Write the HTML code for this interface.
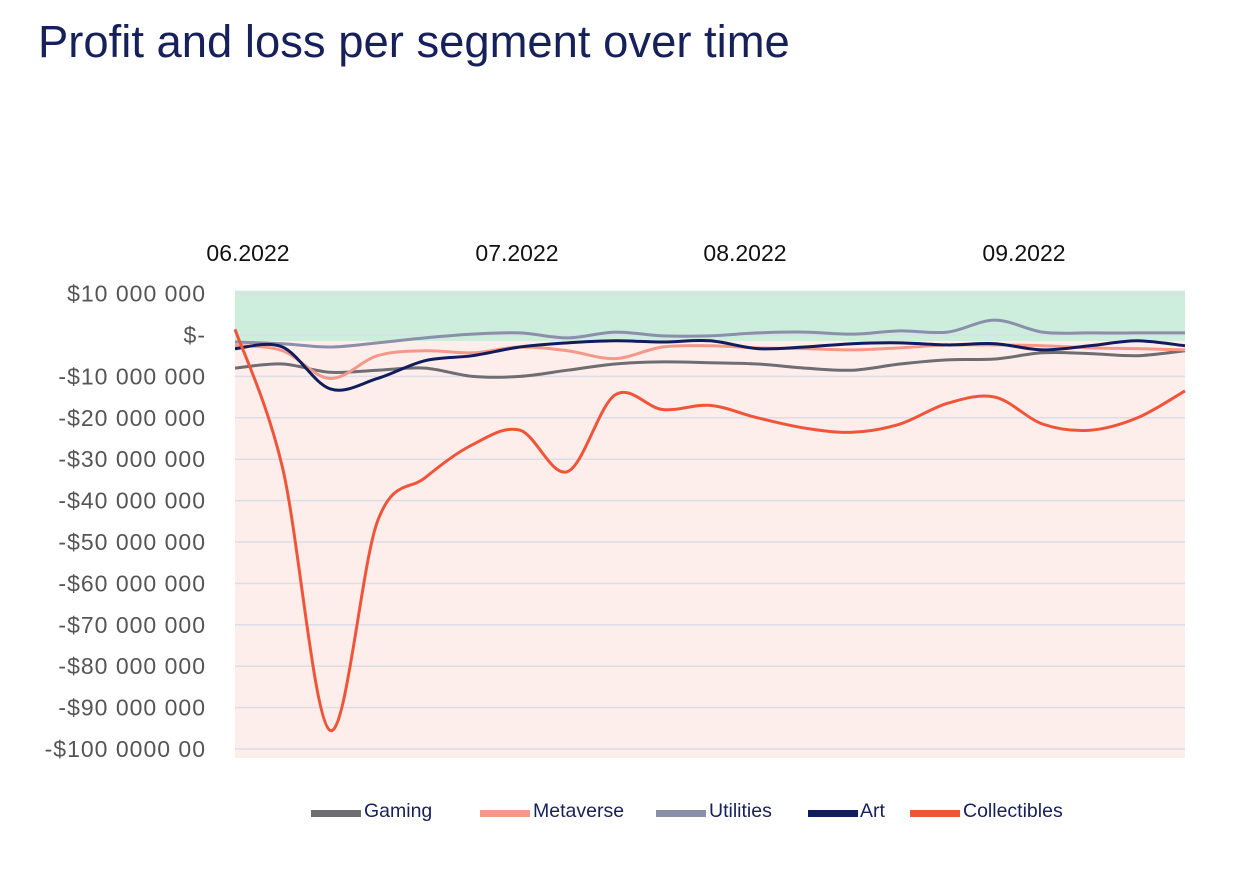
<!DOCTYPE html>
<html><head><meta charset="utf-8"><style>
body{margin:0;background:#fff;width:1246px;height:864px;overflow:hidden;font-family:"Liberation Sans",sans-serif}
</style></head><body>
<svg width="1246" height="864">
<text x="38" y="57" font-size="45.4" fill="#16205b">Profit and loss per segment over time</text>
<g id="plot"></g>
</svg>
<script>
const months=["06.2022","07.2022","08.2022","09.2022"];
const monthX=[248,517,745,1024];
const yTicks=[10,0,-10,-20,-30,-40,-50,-60,-70,-80,-90,-100];
const yLabels=["$10 000 000","$-","-$10 000 000","-$20 000 000","-$30 000 000","-$40 000 000","-$50 000 000","-$60 000 000","-$70 000 000","-$80 000 000","-$90 000 000","-$100 0000 00"];
const gaming=[-8,-7,-9,-8.5,-8,-10,-10,-8.5,-7,-6.5,-6.7,-7,-8,-8.5,-7,-6,-5.8,-4.3,-4.5,-5,-3.8];
const metaverse=[-2.5,-3.8,-10.5,-5,-3.8,-4.3,-2.9,-3.8,-5.7,-2.9,-2.6,-3.1,-3.3,-3.6,-3.1,-2.4,-2.4,-2.6,-3.1,-3.3,-3.6];
const utilities=[-1.7,-2.1,-2.9,-1.9,-0.7,0.2,0.5,-0.7,0.7,-0.2,-0.2,0.5,0.7,0.2,1,0.7,3.6,0.7,0.5,0.5,0.5];
const art=[-3.3,-2.9,-13,-10.5,-6.2,-5,-2.9,-1.9,-1.4,-1.7,-1.4,-3.3,-2.9,-2.1,-1.9,-2.4,-2.1,-3.6,-2.6,-1.4,-2.6];
const collectibles=[1.4,-32,-95.5,-45,-34.5,-26.5,-23,-33,-14.5,-18,-17,-20,-22.5,-23.5,-21.5,-16.5,-15,-21.5,-23,-20,-13.5];
const seriesNames=["Gaming","Metaverse","Utilities","Art","Collectibles"];
const seriesColors=["#6d6d72","#f4998a","#8a90aa","#101c5c","#f0553a"];
const seriesData=[gaming,metaverse,utilities,art,collectibles];

const X0=235,X1=1185,Y0=335,PER=4.14;
const xS=i=>X0+i*(X1-X0)/(gaming.length-1);
const yS=v=>Y0-v*PER;
const NS="http://www.w3.org/2000/svg";
const g=document.getElementById('plot');
function mk(t,a){const e=document.createElementNS(NS,t);for(const k in a)e.setAttribute(k,a[k]);g.appendChild(e);return e;}

let r=mk('rect',{x:X0,y:yS(10)-3,width:X1-X0,height:yS(-1.5)-yS(10)+3,fill:'#cdeedc'});


r=mk('rect',{x:X0,y:yS(-1.5),width:X1-X0,height:758-yS(-1.5),fill:'#fdeeeb'});



yTicks.forEach((v,i)=>{
  const l=mk('line',{x1:X0,x2:X1,y1:yS(v),y2:yS(v),stroke:'#dcdde8','stroke-width':1.5});
  
  
  const t=mk('text',{x:206,y:yS(v)+8,'font-size':23,'letter-spacing':1,fill:'#555','text-anchor':'end'});
  t.textContent=yLabels[i];
  
  
});
months.forEach((m,i)=>{
  const t=mk('text',{x:monthX[i],y:261,'font-size':23,fill:'#111','text-anchor':'middle'});
  t.textContent=m;
  
  
});
function pathFor(d){
  const p=d.map((v,i)=>[xS(i),yS(v)]);
  let s=`M${p[0][0]},${p[0][1]}`;
  for(let i=0;i<p.length-1;i++){
    const p0=p[i-1]||p[i],p1=p[i],p2=p[i+1],p3=p[i+2]||p2;
    const c1=[p1[0]+(p2[0]-p0[0])/6,p1[1]+(p2[1]-p0[1])/6];
    const c2=[p2[0]-(p3[0]-p1[0])/6,p2[1]-(p3[1]-p1[1])/6];
    s+=`C${c1[0]},${c1[1]} ${c2[0]},${c2[1]} ${p2[0]},${p2[1]}`;
  }
  return s;
}
seriesData.forEach((d,i)=>{
  const p=mk('path',{d:pathFor(d),fill:'none',stroke:seriesColors[i],'stroke-width':3});
  
  
});
const legX=[311,480,656,808,910];
seriesNames.forEach((n,i)=>{
  const r2=mk('rect',{x:legX[i],y:810,width:50,height:7,fill:seriesColors[i]});
  
  
  const t=mk('text',{x:legX[i]+(i==3?52:53),y:817,'font-size':19.5,fill:'#16205b'});
  t.textContent=n;
  
  
});
</script>
</body></html>
